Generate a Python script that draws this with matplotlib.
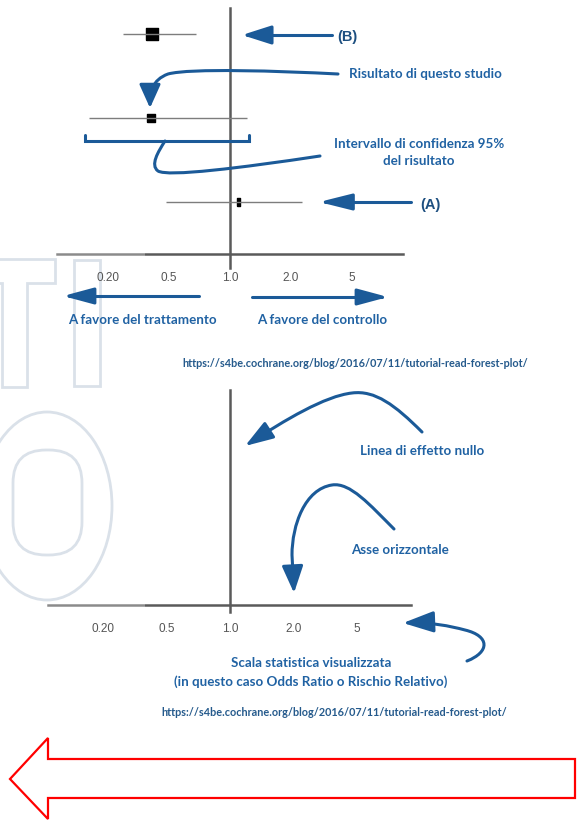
import numpy as np
import matplotlib
matplotlib.use('Agg')
import matplotlib.pyplot as plt
from matplotlib.path import Path
from matplotlib.patches import FancyArrowPatch, PathPatch, Polygon, Ellipse, FancyBboxPatch, Rectangle
from matplotlib.ticker import NullLocator

# forest plot rows, top to bottom: (B), this study, (A)
rows = [3, 2, 1]
or_est = [0.39, 0.38, 1.10]
or_low = [0.25, 0.15, 0.48]
or_high = [0.68, 1.21, 2.36]
box_w = [12, 8, 3]    # marker size in px
box_h = [12, 8, 8]

tick_vals = [0.2, 0.5, 1.0, 2.0, 5.0]
tick_labels = ['0.20', '0.5', '1.0', '2.0', '5']

url = 'https://s4be.cochrane.org/blog/2016/07/11/tutorial-read-forest-plot/'

BLUE = '#1b5a98'
TXT = '#2062a3'
GREY = '#5a5a5a'
PX = 0.72  # points per pixel at dpi 100

# the schematic axis puts the ticks at equal distance,
# so map log(OR) piecewise-linearly onto tick index
lt = np.log(tick_vals)
idx = np.arange(len(tick_vals), dtype=float)


def forward(x):
    x = np.asarray(x, float)
    with np.errstate(divide='ignore', invalid='ignore'):
        lx = np.log(np.where(x > 0, x, np.nan))
    out = np.interp(lx, lt, idx)
    out = np.where(lx < lt[0], (lx - lt[0]) / (lt[1] - lt[0]), out)
    out = np.where(lx > lt[-1], idx[-1] + (lx - lt[-1]) / (lt[-1] - lt[-2]), out)
    return out


def inverse(u):
    u = np.asarray(u, float)
    lv = np.interp(u, idx, lt)
    lv = np.where(u < 0, lt[0] + u * (lt[1] - lt[0]), lv)
    lv = np.where(u > idx[-1], lt[-1] + (u - idx[-1]) * (lt[-1] - lt[-2]), lv)
    return np.exp(lv)


fig = plt.figure(figsize=(5.77, 8.22), dpi=100)
fig.patch.set_facecolor('white')


def px_axes(x0, y0, x1, y1, z):
    """Axes placed with pixel edges (y measured from top)."""
    return fig.add_axes([x0 / 577, (822 - y1) / 822, (x1 - x0) / 577, (y1 - y0) / 822], zorder=z)


# watermark + annotation layers in pixel coordinates
ax_wm = px_axes(0, 0, 577, 822, 0)
ax_wm.set_xlim(0, 577)
ax_wm.set_ylim(822, 0)
ax_wm.axis('off')

WM = '#dae1e9'
ax_wm.add_patch(Polygon([(-5, 259), (55, 259), (55, 283), (27, 283), (27, 387),
                         (2, 387), (2, 283), (-5, 283)], closed=True, fill=False,
                        ec=WM, lw=2.0))
ax_wm.add_patch(Polygon([(74, 260), (100, 260), (100, 386), (74, 386)], closed=True,
                        fill=False, ec=WM, lw=2.0))
ax_wm.add_patch(Ellipse((47, 506), 130, 188, fill=False, ec=WM, lw=2.0))
ax_wm.add_patch(FancyBboxPatch((13, 450), 69, 105, boxstyle='round,pad=0,rounding_size=33',
                               fill=False, ec=WM, lw=2.0))


def forest_axes(x0, x1, y0, y1, spacing):
    ax = px_axes(x0, y0, x1, y1, 1)
    ax.patch.set_alpha(0)
    ax.set_xscale('function', functions=(forward, inverse))
    null_px = 230
    ax.set_xlim(inverse(2 + (x0 - null_px) / spacing), inverse(2 + (x1 - null_px) / spacing))
    ax.set_xticks(tick_vals)
    ax.set_xticklabels(tick_labels)
    ax.xaxis.set_minor_locator(NullLocator())
    ax.set_yticks([])
    for s in ['top', 'left', 'right']:
        ax.spines[s].set_visible(False)
    ax.spines['bottom'].set_color(GREY)
    ax.spines['bottom'].set_linewidth(1.8)
    ax.tick_params(axis='x', length=0, pad=13, labelsize=8.5, labelcolor='#555555')
    for lab in ax.get_xticklabels():
        lab.set_family('Liberation Sans')
    return ax


# top forest plot
ax1 = forest_axes(57, 403, 0, 254, 61)
ax1.set_ylim(0.38, 3.405)
ax1.axvline(1.0, ymin=-14 / 254, ymax=1 - 8 / 254, color=GREY, lw=1.8, clip_on=False)
for y, e, lo, hi, w, h in zip(rows, or_est, or_low, or_high, box_w, box_h):
    verts = [(-w / 2, -h / 2), (w / 2, -h / 2), (w / 2, h / 2), (-w / 2, h / 2), (-w / 2, -h / 2)]
    ax1.plot([e], [y], marker=verts, ms=max(w, h) * PX, color='black', zorder=2)
    ax1.hlines(y, lo, hi, color='#7d7d7d', lw=1.0, zorder=3)

# bottom (empty) forest plot
ax2 = forest_axes(48, 411, 390, 605, 63.5)
ax2.set_ylim(0, 1)
ax2.axvline(1.0, ymin=-7 / 215, ymax=1, color=GREY, lw=1.8, clip_on=False)

# annotations
ax_an = px_axes(0, 0, 577, 822, 5)
ax_an.set_xlim(0, 577)
ax_an.set_ylim(822, 0)
ax_an.axis('off')

# the watermark overlay fades the left end of both axis lines
for y_axis in (254, 605):
    ax_an.add_patch(Rectangle((40, y_axis - 3), 105, 6, fc='white', ec='none', alpha=0.3))

M, L, C = Path.MOVETO, Path.LINETO, Path.CURVE4


def arrow(pts, codes, hl, hw):
    p = FancyArrowPatch(path=Path(pts, codes),
                        arrowstyle='-|>,head_length=%g,head_width=%g' % (hl * PX, hw * PX),
                        mutation_scale=1, lw=2.2, color=BLUE, shrinkA=0, shrinkB=0)
    ax_an.add_patch(p)


def curve(pts, codes):
    ax_an.add_patch(PathPatch(Path(pts, codes), fill=False, ec=BLUE, lw=2.2,
                              capstyle='round'))


arrow([(332, 35), (242, 35)], [M, L], 25, 8)
arrow([(411, 202), (319, 202)], [M, L], 28, 7)
arrow([(338, 74), (280, 71), (190, 68), (168, 74), (152, 80), (150, 92), (150, 108)],
      [M, C, C, C, C, C, C], 20, 9)
curve([(85, 135), (85, 141), (249, 141), (249, 135)], [M, L, L, L])
curve([(165, 141), (158, 152), (150, 165), (158, 171), (168, 177), (240, 168), (320, 156)],
      [M, C, C, C, C, C, C])
arrow([(199, 296), (63, 296)], [M, L], 26, 7)
arrow([(252, 297), (388, 297)], [M, L], 26, 7)

arrow([(422, 432), (395, 405), (375, 390), (352, 393), (325, 396), (285, 420), (245, 446)],
      [M, C, C, C, C, C, C], 24, 8)
arrow([(394, 529), (370, 505), (350, 482), (332, 485), (305, 489), (292, 525), (292, 555),
       (294, 593)], [M, C, C, C, C, C, C, L], 23, 9)
arrow([(467, 661), (490, 652), (490, 636), (465, 630), (450, 626), (430, 622), (403, 623)],
      [M, C, C, C, C, C, C], 26, 9)

# red outline arrow at the bottom
ax_an.add_patch(Polygon([(10, 779), (48, 738), (48, 759), (575, 759), (575, 798),
                         (48, 798), (48, 819)], closed=True, fc='white', ec='#ff0000',
                        lw=1.6, joinstyle='miter'))

lab = dict(color=TXT, family='Lato', weight='bold', fontsize=9.6)
ax_an.text(337, 37, '(B)', color='#1d4f80', family='Liberation Sans', weight='bold',
           fontsize=10.5, ha='left', va='center')
ax_an.text(420, 205, '(A)', color='#1d4f80', family='Liberation Sans', weight='bold',
           fontsize=10.5, ha='left', va='center')
ax_an.text(425, 74, 'Risultato di questo studio', ha='center', va='center', **lab)
ax_an.text(419, 144, 'Intervallo di confidenza 95%', ha='center', va='center', **lab)
ax_an.text(419, 161, 'del risultato', ha='center', va='center', **lab)
ax_an.text(142, 320, 'A favore del trattamento', ha='center', va='center', **lab)
ax_an.text(322, 320, 'A favore del controllo', ha='center', va='center', **lab)
ax_an.text(422, 451, 'Linea di effetto nullo', ha='center', va='center', **lab)
ax_an.text(400, 550, 'Asse orizzontale', ha='center', va='center', **lab)
ax_an.text(311, 663, 'Scala statistica visualizzata', ha='center', va='center', **lab)
ax_an.text(311, 682, '(in questo caso Odds Ratio o Rischio Relativo)', ha='center',
           va='center', **lab)

url_style = dict(color='#255a8c', family='Lato', weight='bold', fontsize=7.8,
                 ha='center', va='center')
ax_an.text(355, 363, url, **url_style)
ax_an.text(334, 712, url, **url_style)

fig.savefig('out.png', dpi=100)
